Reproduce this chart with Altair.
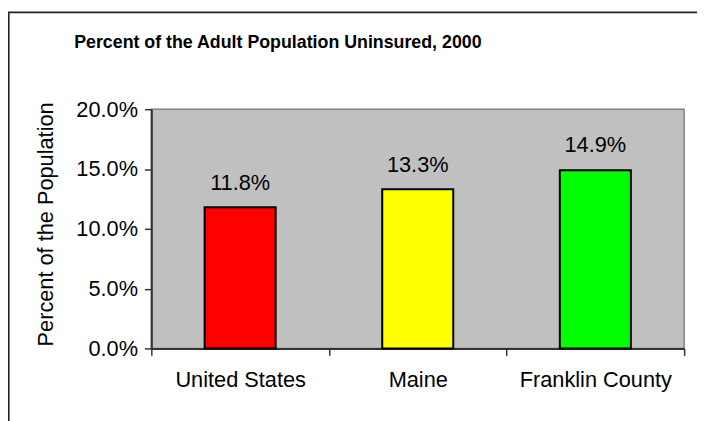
import altair as alt
import pandas as pd

categories = ["United States", "Maine", "Franklin County"]
values = [0.118, 0.133, 0.149]
colors = ["#FF0000", "#FFFF00", "#00FF00"]
y_ticks = [0.0, 0.05, 0.10, 0.15, 0.20]
title_text = "Percent of the Adult Population Uninsured, 2000"

df = pd.DataFrame({"cat": categories, "val": values, "color": colors})

FONT = "Liberation Sans"

x_enc = alt.X(
    "cat:N",
    sort=categories,
    title=None,
    scale=alt.Scale(paddingInner=0, paddingOuter=0),
    axis=alt.Axis(
        labelAngle=0,
        labelFontSize=22,
        labelFont=FONT,
        labelColor="black",
        labelPadding=14,
        tickSize=7,
        tickBand="extent",
        tickColor="#333333",
        tickWidth=1.5,
        domainColor="#333333",
        domainWidth=2,
    ),
)
y_enc = alt.Y(
    "val:Q",
    title="Percent of the Population",
    scale=alt.Scale(domain=[0, 0.2], nice=False),
    axis=alt.Axis(
        values=y_ticks,
        format=".1%",
        grid=False,
        labelFontSize=22,
        labelFont=FONT,
        labelColor="black",
        labelPadding=7,
        tickSize=7,
        tickColor="#333333",
        tickWidth=1.5,
        domainColor="#333333",
        domainWidth=2,
        titleFont=FONT,
        titleFontSize=22,
        titleFontWeight="normal",
        titleColor="black",
        titleAngle=-90,
        titleX=-107,
        titleY=116,
        titleAlign="center",
        titleBaseline="middle",
    ),
)

bars = alt.Chart(df).mark_bar(
    stroke="black", strokeWidth=2, width=alt.RelativeBandSize(0.40)
).encode(
    x=x_enc,
    y=y_enc,
    color=alt.Color("color:N", scale=None, legend=None),
)

labels = alt.Chart(df).mark_text(
    font=FONT, fontSize=22, color="black", baseline="alphabetic", dy=-18
).encode(
    x=alt.X("cat:N", sort=categories),
    y=alt.Y("val:Q"),
    text=alt.Text("val:Q", format=".1%"),
)

title = alt.Chart(alt.Data(values=[{"t": title_text}])).mark_text(
    font=FONT, fontSize=18, fontWeight="bold", color="black",
    align="center", baseline="middle", clip=False
).encode(
    x=alt.value(128),
    y=alt.value(-67),
    text="t:N",
)

border = alt.Chart(alt.Data(values=[{"a": 1}])).mark_rect(
    fill=None, stroke="#222222", strokeWidth=1.6, clip=False
).encode(
    x=alt.value(-144.2),
    x2=alt.value(570),
    y=alt.value(-98),
    y2=alt.value(330),
)

chart = (
    alt.layer(bars, labels, title, border)
    .properties(
        width=539,
        height=242,
        padding={"left": 145, "top": 100, "right": 13, "bottom": 71},
        autosize=alt.AutoSizeParams(type="none"),
    )
    .configure(background="white")
    .configure_view(fill="#C0C0C0", stroke="#808080", strokeWidth=1.5)
)

chart.save("out.html", embed_options={"renderer": "svg", "actions": False})
